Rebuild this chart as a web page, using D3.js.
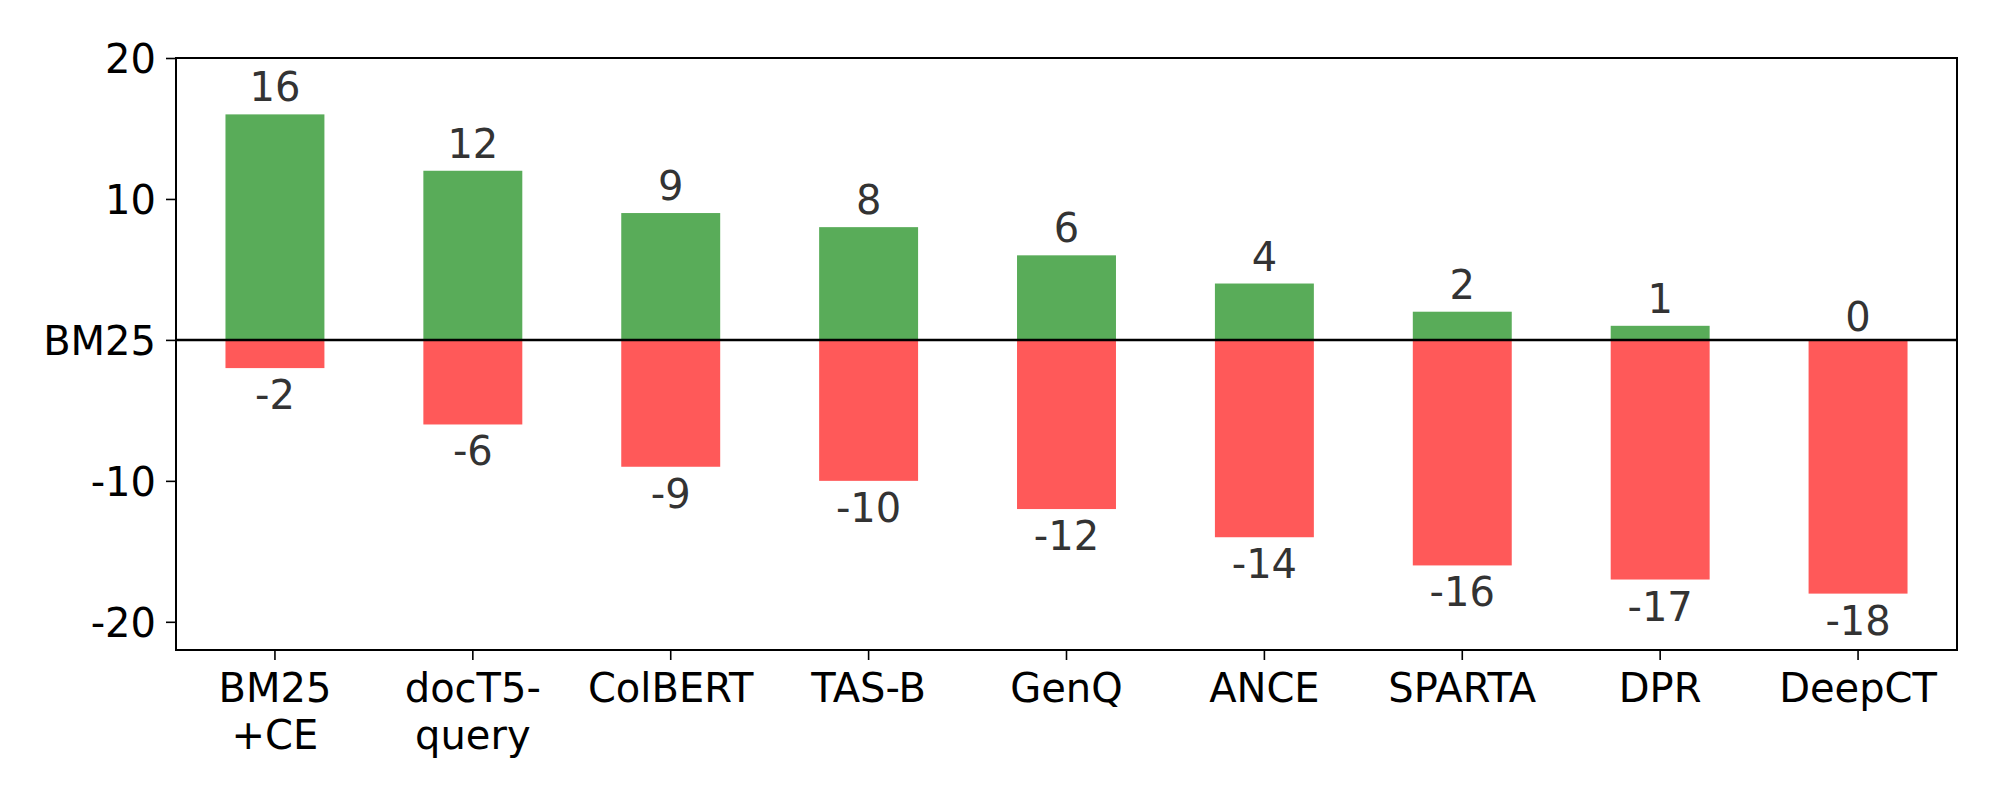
<!DOCTYPE html>
<html>
<head>
<meta charset="utf-8">
<script src="https://cdn.jsdelivr.net/npm/d3@7"></script>
<style>
  body { margin: 0; background: #fff; }
  text { font-family: "DejaVu Sans", sans-serif; }
</style>
</head>
<body>
<script>
// models along the x axis (multi-line labels split on \n)
var models = ["BM25\n+CE", "docT5-\nquery", "ColBERT", "TAS-B", "GenQ", "ANCE", "SPARTA", "DPR", "DeepCT"];
// datasets where the model beats BM25 / loses to BM25
var wins = [16, 12, 9, 8, 6, 4, 2, 1, 0];
var losses = [-2, -6, -9, -10, -12, -14, -16, -17, -18];
var yTicks = [20, 10, 0, -10, -20];

var W = 2000, H = 800;
var plotL = 176, plotR = 1957, plotT = 58, plotB = 650;

var svg = d3.select("body").append("svg").attr("width", W).attr("height", H);

var x = d3.scaleBand().domain(models).range([plotL, plotR]).paddingInner(0.5).paddingOuter(0.25);
var y = d3.scaleLinear().domain([-22, 20]).range([plotB, plotT]);

// bars
svg.selectAll("rect.win").data(models).enter().append("rect")
  .attr("x", function(d){ return x(d); })
  .attr("width", x.bandwidth())
  .attr("y", function(d, i){ return y(wins[i]); })
  .attr("height", function(d, i){ return y(0) - y(wins[i]); })
  .style("fill", "#59ac59");

svg.selectAll("rect.loss").data(models).enter().append("rect")
  .attr("x", function(d){ return x(d); })
  .attr("width", x.bandwidth())
  .attr("y", y(0))
  .attr("height", function(d, i){ return y(losses[i]) - y(0); })
  .style("fill", "#ff5959");

// value labels
svg.selectAll("text.win").data(models).enter().append("text")
  .attr("x", function(d){ return x(d) + x.bandwidth() / 2; })
  .attr("y", function(d, i){ return y(wins[i]) - (wins[i] === 0 ? 9 : 13); })
  .attr("text-anchor", "middle")
  .style("font-size", "40px").style("fill", "#333")
  .text(function(d, i){ return wins[i]; });

svg.selectAll("text.loss").data(models).enter().append("text")
  .attr("x", function(d){ return x(d) + x.bandwidth() / 2; })
  .attr("y", function(d, i){ return y(losses[i]) + 41; })
  .attr("text-anchor", "middle")
  .style("font-size", "40px").style("fill", "#333")
  .text(function(d, i){ return losses[i]; });

// BM25 baseline
svg.append("line")
  .attr("x1", plotL).attr("x2", plotR)
  .attr("y1", y(0)).attr("y2", y(0))
  .style("stroke", "#000").style("stroke-width", 2.5);

// y axis
var yAxis = d3.axisLeft(y).tickValues(yTicks).tickSize(10).tickPadding(10)
  .tickFormat(function(d){ return d === 0 ? "BM25" : (d < 0 ? "-" + Math.abs(d) : d); });
var gy = svg.append("g").attr("transform", "translate(" + plotL + ",0)").call(yAxis);
gy.select(".domain").remove();
gy.selectAll("line").style("stroke-width", 1.6);
gy.selectAll("text").style("font-size", "40px").style("font-family", "DejaVu Sans").attr("dy", "0.36em");

// x axis
var xAxis = d3.axisBottom(x).tickSize(10).tickPadding(8).tickFormat("");
var gx = svg.append("g").attr("transform", "translate(0," + plotB + ")").call(xAxis);
gx.select(".domain").remove();
gx.selectAll("line").style("stroke-width", 1.6);

svg.selectAll("g.xlab").data(models).enter().append("text")
  .attr("x", function(d){ return x(d) + x.bandwidth() / 2; })
  .attr("y", 702)
  .attr("text-anchor", "middle")
  .style("font-size", "40px").style("fill", "#000")
  .each(function(d){
    var t = d3.select(this);
    d.split("\n").forEach(function(line, k){
      t.append("tspan").attr("x", t.attr("x")).attr("dy", k === 0 ? 0 : 47).text(line);
    });
  });

// frame
svg.append("rect")
  .attr("x", plotL).attr("y", plotT)
  .attr("width", plotR - plotL).attr("height", plotB - plotT)
  .style("fill", "none").style("stroke", "#000").style("stroke-width", 2);
</script>
</body>
</html>
